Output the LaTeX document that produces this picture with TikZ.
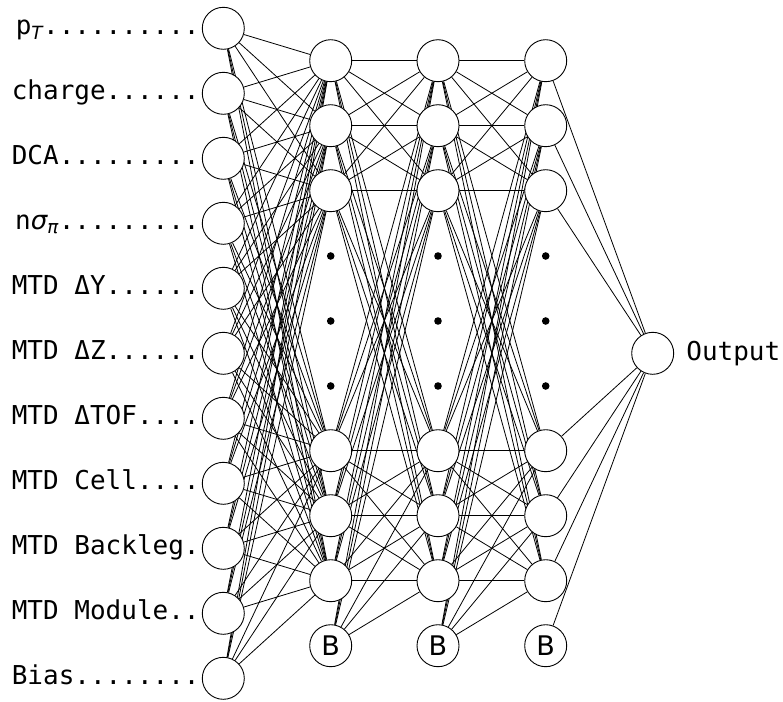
\documentclass[tikz,border=0pt]{standalone}
\usepackage{fontspec}
\setmonofont{DejaVu Sans Mono}
\setsansfont{DejaVu Sans}
\usepackage{tikz}
\usetikzlibrary{positioning}

\pgfdeclarelayer{bg}
\pgfsetlayers{bg,main}

\newcommand{\lead}[1]{\foreach \k in {1,...,#1}{.}}

\tikzset{
	neuron/.style={draw, circle, fill=white, minimum size=42pt, inner sep=0pt, line width=0.9pt},
	link/.style={line width=0.8pt},
	lbl/.style={font=\fontsize{26}{30}\selectfont\ttfamily, inner sep=0pt},
}

\begin{document}
\begin{tikzpicture}[x=1pt,y=-1pt]
	\useasboundingbox (0,0) rectangle (783,701);
	% input layer (last one is the bias)
	\foreach \i in {1,...,11}
		\node[neuron] (in\i) at (223.3,{28.3+65*(\i-1)}) {};
	\foreach \t/\n [count=\i] in {p\textsubscript{\sffamily\itshape T}/10,
		charge/6, DCA/9, n{\sffamily\itshape σ}\textsubscript{\sffamily\itshape π}/9,
		MTD ΔY/6, MTD ΔZ/6, MTD ΔTOF/4, MTD Cell/4,
		MTD Backleg/1, MTD Module/2, Bias/8}
		\node[lbl, anchor=base east] (lab\i) at ([xshift=-2pt,yshift=-6.5pt]in\i.west) {\t\lead{\n}};
	% hidden layers, node 7 is the bias
	\foreach \x [count=\l] in {330.7,438,545.7} {
		\foreach \y [count=\j] in {60.7,125.7,190.7,450.7,515.7,580.7}
			\node[neuron] (h\l-\j) at (\x,\y) {};
		\node[neuron, font=\fontsize{27}{27}\selectfont\sffamily] (h\l-7) at (\x,645.7) {B};
		\foreach \y in {256,321,386}
			\fill (\x,\y) circle [radius=3.8pt];
	}
	% output
	\node[neuron] (out) at (652.7,353.3) {};
	\node[lbl, right=12pt of out] (outlab) {Output};
	% weights
	\begin{pgfonlayer}{bg}
		\foreach \i in {1,...,11}
			\foreach \j in {1,...,6}
				\draw[link] (in\i) -- (h1-\j);
		\foreach \l/\m in {1/2,2/3}
			\foreach \i in {1,...,7}
				\foreach \j in {1,...,6}
					\draw[link] (h\l-\i) -- (h\m-\j);
		\foreach \i in {1,...,7}
			\draw[link] (h3-\i) -- (out);
	\end{pgfonlayer}
\end{tikzpicture}
\end{document}
